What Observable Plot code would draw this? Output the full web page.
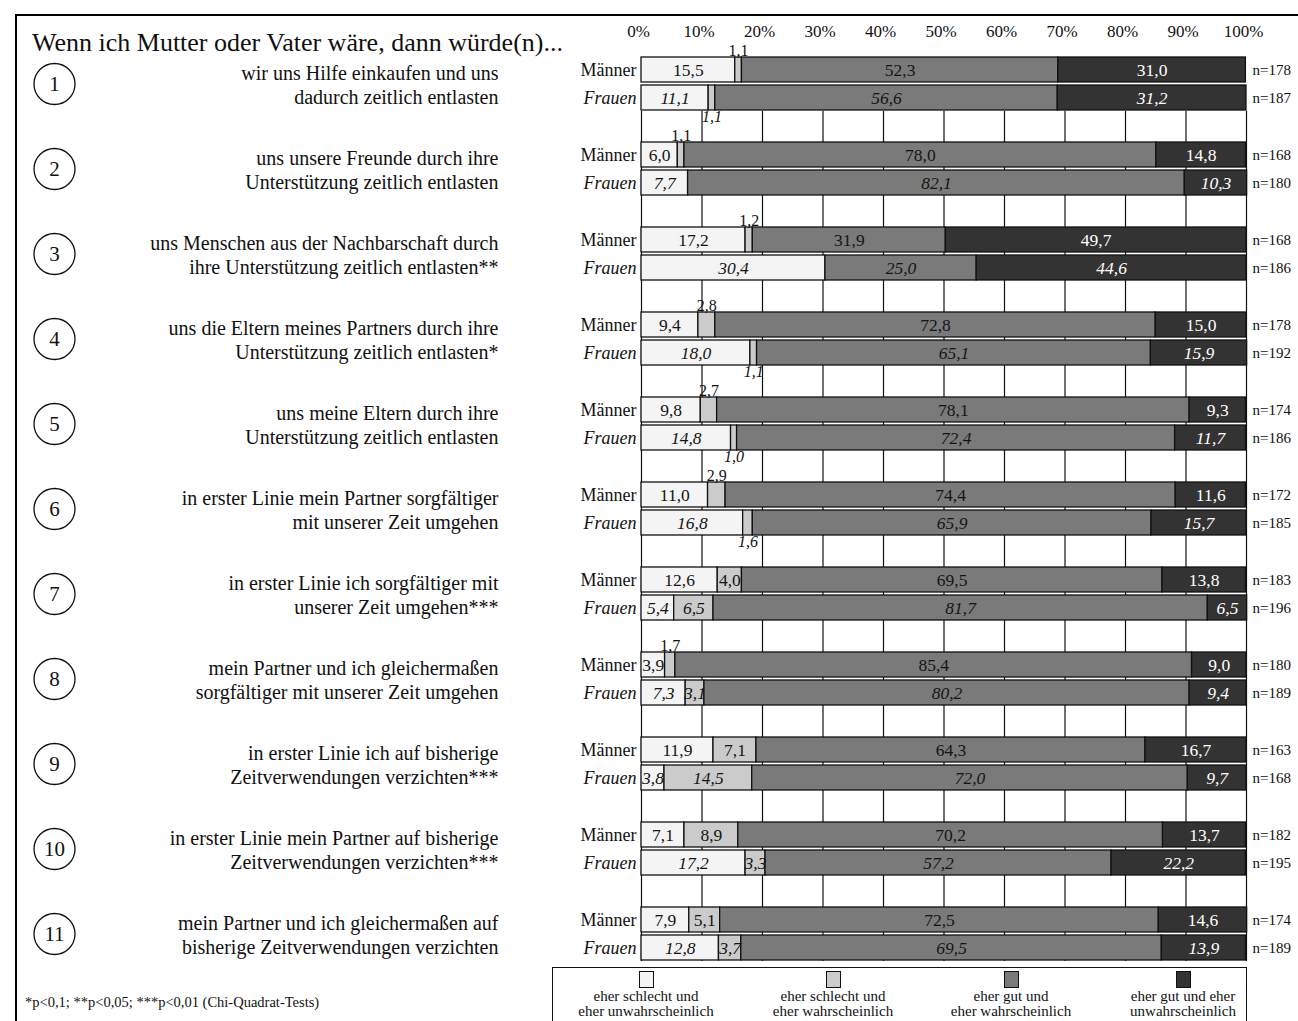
<!DOCTYPE html>
<html><head><meta charset="utf-8">
<script src="https://cdn.jsdelivr.net/npm/d3@7"></script>
<script src="https://cdn.jsdelivr.net/npm/@observablehq/plot@0.6"></script>
<style>
body{margin:0;background:#fff;font-family:"Liberation Serif","Times New Roman",serif;color:#111;}
#wrap{position:relative;width:1298px;height:1021px;overflow:hidden;background:#fff;}
#chart{position:absolute;left:0;top:0;}
#frame{position:absolute;left:15px;top:14px;width:1400px;height:1100px;border-top:2px solid #000;border-left:2px solid #000;pointer-events:none;}
#title{position:absolute;left:32px;top:27px;font-size:26px;line-height:32px;white-space:nowrap;}
#foot{position:absolute;left:25px;top:994px;font-size:14.5px;white-space:nowrap;}
#legend{position:absolute;left:552px;top:967px;width:693px;height:80px;border:1px solid #111;}
.lg{position:absolute;top:3px;width:190px;margin-left:-95px;text-align:center;font-size:15px;line-height:15px;}
.sw{display:block;margin:0 auto 1px auto;width:13px;height:15px;border:1px solid #111;}
</style></head>
<body>
<div id="wrap">
  <div id="chart"></div>
  <div id="frame"></div>
  <div id="title">Wenn ich Mutter oder Vater wäre, dann würde(n)...</div>
  <div id="foot">*p&lt;0,1; **p&lt;0,05; ***p&lt;0,01 (Chi-Quadrat-Tests)</div>
  <div id="legend"></div>
</div>
<script>
// ---------- data ----------
const items = ["1","2","3","4","5","6","7","8","9","10","11"];
const descriptions = [
  "wir uns Hilfe einkaufen und uns\ndadurch zeitlich entlasten",
  "uns unsere Freunde durch ihre\nUnterstützung zeitlich entlasten",
  "uns Menschen aus der Nachbarschaft durch\nihre Unterstützung zeitlich entlasten**",
  "uns die Eltern meines Partners durch ihre\nUnterstützung zeitlich entlasten*",
  "uns meine Eltern durch ihre\nUnterstützung zeitlich entlasten",
  "in erster Linie mein Partner sorgfältiger\nmit unserer Zeit umgehen",
  "in erster Linie ich sorgfältiger mit\nunserer Zeit umgehen***",
  "mein Partner und ich gleichermaßen\nsorgfältiger mit unserer Zeit umgehen",
  "in erster Linie ich auf bisherige\nZeitverwendungen verzichten***",
  "in erster Linie mein Partner auf bisherige\nZeitverwendungen verzichten***",
  "mein Partner und ich gleichermaßen auf\nbisherige Zeitverwendungen verzichten"
];
const groups = ["Männer", "Frauen"];
const categories = [
  "eher schlecht und eher unwahrscheinlich",
  "eher schlecht und eher wahrscheinlich",
  "eher gut und eher wahrscheinlich",
  "eher gut und eher unwahrscheinlich"
];
const legendLabels = [
  "eher schlecht und\neher unwahrscheinlich",
  "eher schlecht und\neher wahrscheinlich",
  "eher gut und\neher wahrscheinlich",
  "eher gut und eher\nunwahrscheinlich"
];
const colors = ["#f4f4f4", "#cbcbcb", "#7a7a7a", "#333333"];
const maenner = [
  [15.5, 1.1, 52.3, 31.0],
  [6.0, 1.1, 78.0, 14.8],
  [17.2, 1.2, 31.9, 49.7],
  [9.4, 2.8, 72.8, 15.0],
  [9.8, 2.7, 78.1, 9.3],
  [11.0, 2.9, 74.4, 11.6],
  [12.6, 4.0, 69.5, 13.8],
  [3.9, 1.7, 85.4, 9.0],
  [11.9, 7.1, 64.3, 16.7],
  [7.1, 8.9, 70.2, 13.7],
  [7.9, 5.1, 72.5, 14.6]
];
const frauen = [
  [11.1, 1.1, 56.6, 31.2],
  [7.7, 0, 82.1, 10.3],
  [30.4, 0, 25.0, 44.6],
  [18.0, 1.1, 65.1, 15.9],
  [14.8, 1.0, 72.4, 11.7],
  [16.8, 1.6, 65.9, 15.7],
  [5.4, 6.5, 81.7, 6.5],
  [7.3, 3.1, 80.2, 9.4],
  [3.8, 14.5, 72.0, 9.7],
  [17.2, 3.3, 57.2, 22.2],
  [12.8, 3.7, 69.5, 13.9]
];
const nMaenner = [178, 168, 168, 178, 174, 172, 183, 180, 163, 182, 174];
const nFrauen  = [187, 180, 186, 192, 186, 185, 196, 189, 168, 195, 189];
const xTicks = [0, 10, 20, 30, 40, 50, 60, 70, 80, 90, 100];

// ---------- derived tables ----------
const fmt = v => v.toFixed(1).replace(".", ",");
const segs = [];
const rowLabels = [];
items.forEach((item, i) => {
  [[groups[0], maenner[i], nMaenner[i]], [groups[1], frauen[i], nFrauen[i]]].forEach(([sex, vals, n]) => {
    let acc = 0;
    vals.forEach((v, k) => {
      if (v > 0) segs.push({item, sex, k, cat: categories[k], value: v, x1: acc, x2: acc + v, mid: acc + v / 2, label: fmt(v)});
      acc += v;
    });
    rowLabels.push({item, sex, n: "n=" + n});
  });
});
const itemRows = items.map((item, i) => ({item, desc: descriptions[i]}));
const gridRows = items.slice(1).flatMap(item => xTicks.map(x => ({item, x})));

// ---------- layout ----------
const W = 1298, H = 1021, mt = 55, mb = 60, ml = 641, mr = 52;
const fyPad = 0.354;
const fyStep = (H - mt - mb) / (items.length - fyPad);
const gapPx = fyStep * fyPad;

const inside = (sex, dark) => segs.filter(d => d.sex === sex && d.value >= 3 && (d.k === 3) === dark);
const outside = sex => segs.filter(d => d.sex === sex && d.value < 3);

const textBase = {x: "mid", y: "sex", fy: "item", text: "label", fontSize: 17.5};

const plot = Plot.plot({
  width: W, height: H,
  marginTop: mt, marginBottom: mb, marginLeft: ml, marginRight: mr,
  style: {fontFamily: "'Liberation Serif','Times New Roman',serif", color: "#111", background: "transparent", overflow: "visible"},
  x: {domain: [0, 100], axis: null},
  y: {domain: groups, paddingInner: 0.1, paddingOuter: 0, axis: null},
  fy: {domain: items, paddingInner: fyPad, paddingOuter: 0, axis: null},
  color: {domain: categories, range: colors},
  marks: [
    Plot.ruleX(gridRows, {x: "x", fy: "item", stroke: "#111", strokeWidth: 1.2, insetTop: -gapPx}),
    Plot.barX(segs, {x1: "x1", x2: "x2", y: "sex", fy: "item", fill: "cat", stroke: "#111", strokeWidth: 1.3}),
    Plot.text(inside("Männer", false), {...textBase, fill: "#151515"}),
    Plot.text(inside("Männer", true), {...textBase, fill: "#ffffff"}),
    Plot.text(inside("Frauen", false), {...textBase, fill: "#151515", fontStyle: "italic"}),
    Plot.text(inside("Frauen", true), {...textBase, fill: "#ffffff", fontStyle: "italic"}),
    Plot.text(outside("Männer"), {...textBase, fontSize: 16, fill: "#111", dy: -19}),
    Plot.text(outside("Frauen"), {...textBase, fontSize: 16, fill: "#111", fontStyle: "italic", dy: 19}),
    Plot.text(rowLabels.filter(d => d.sex === "Männer"), {y: "sex", fy: "item", text: "sex", frameAnchor: "left", textAnchor: "end", dx: -5, fontSize: 18, fill: "#111"}),
    Plot.text(rowLabels.filter(d => d.sex === "Frauen"), {y: "sex", fy: "item", text: "sex", frameAnchor: "left", textAnchor: "end", dx: -5, fontSize: 18, fill: "#111", fontStyle: "italic"}),
    Plot.text(rowLabels, {y: "sex", fy: "item", text: "n", frameAnchor: "right", textAnchor: "start", dx: 6, fontSize: 15, fill: "#111"}),
    Plot.text(itemRows, {fy: "item", text: "desc", frameAnchor: "left", textAnchor: "end", lineAnchor: "middle", dx: -143, fontSize: 20, lineHeight: 1.2, fill: "#111"}),
    Plot.dot(itemRows, {fy: "item", frameAnchor: "left", dx: -587, r: 20.5, stroke: "#111", strokeWidth: 1.3, fill: "white"}),
    Plot.text(itemRows, {fy: "item", text: "item", frameAnchor: "left", textAnchor: "middle", dx: -587, fontSize: 21, fill: "#111"}),
    Plot.axisX({anchor: "top", ticks: xTicks, tickSize: 0, tickPadding: 20, tickFormat: d => d + "%", fontSize: 17, dx: -3, label: null})
  ]
});
document.getElementById("chart").appendChild(plot);

// ---------- legend ----------
const legend = document.getElementById("legend");
const centers = [93, 280, 458, 630];
categories.forEach((c, i) => {
  const el = document.createElement("div");
  el.className = "lg";
  el.style.left = centers[i] + "px";
  const sw = document.createElement("span");
  sw.className = "sw";
  sw.style.background = colors[i];
  el.appendChild(sw);
  legendLabels[i].split("\n").forEach(line => {
    const l = document.createElement("div");
    l.textContent = line;
    el.appendChild(l);
  });
  legend.appendChild(el);
});
</script>
</body></html>
